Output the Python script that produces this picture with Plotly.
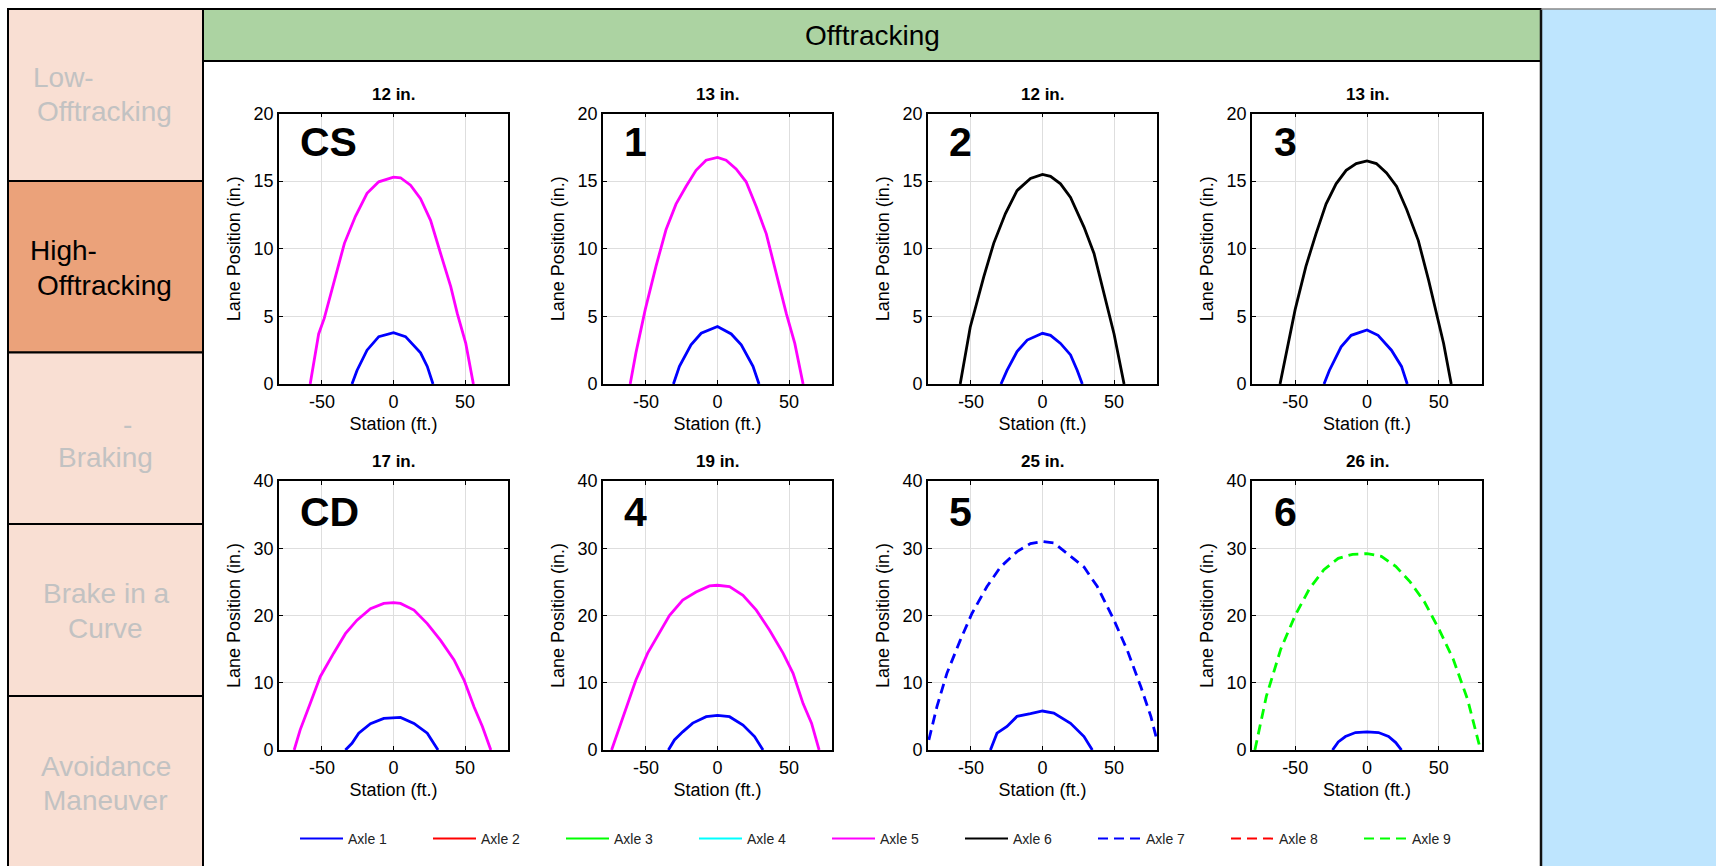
import plotly.graph_objects as go

W, H = 1716, 866

# ---------------- data ----------------
cs_ax1_x = [-29, -25.5, -18.5, -10.3, 0, 8.4, 18.9, 23.6, 27.6]
cs_ax1_y = [0, 1.0, 2.5, 3.5, 3.8, 3.5, 2.3, 1.3, 0]
cs_ax5_x = [-58.2, -52.3, -48.4, -41.8, -34.3, -26.6, -18.5, -10.3, 0, 4.9, 11.9, 18.9, 25.9, 32.9, 40, 44.6, 50.5, 55.8]
cs_ax5_y = [0, 3.7, 4.85, 7.4, 10.4, 12.4, 14.1, 14.95, 15.3, 15.25, 14.7, 13.7, 12.1, 9.65, 7.2, 5.2, 3.0, 0]

p1_ax1_x = [-30.8, -26.6, -18.5, -11.4, 0, 9.6, 16.6, 24.8, 29]
p1_ax1_y = [0, 1.3, 2.9, 3.75, 4.25, 3.7, 2.9, 1.3, 0]
p1_ax5_x = [-61, -57, -50.5, -43, -36, -29, -22, -15, -8, 0, 6, 13, 20, 27.1, 34.1, 41.1, 48.1, 54, 59.8]
p1_ax5_y = [0, 2.3, 5.5, 8.7, 11.4, 13.3, 14.6, 15.8, 16.55, 16.75, 16.55, 15.9, 14.95, 13.1, 11.1, 8.2, 5.2, 3.0, 0]

p2_ax1_x = [-29, -24.8, -17.8, -10.7, 0, 5.6, 12.6, 19.6, 24.3, 27.8]
p2_ax1_y = [0, 1.0, 2.4, 3.25, 3.75, 3.6, 3.0, 2.15, 1.0, 0]
p2_ax6_x = [-57.5, -50.5, -41.1, -34.1, -25.9, -17.8, -8.4, 0, 5.6, 12.6, 19.6, 29, 36, 43, 50, 57]
p2_ax6_y = [0, 4.2, 7.9, 10.4, 12.6, 14.3, 15.2, 15.5, 15.35, 14.8, 13.8, 11.6, 9.65, 6.7, 3.7, 0]

p3_ax1_x = [-29.9, -26.2, -18, -11, 0, 7.7, 17, 24, 28]
p3_ax1_y = [0, 1.0, 2.75, 3.6, 4.0, 3.6, 2.5, 1.3, 0]
p3_ax6_x = [-60.5, -56.5, -50, -42.5, -35.5, -28.5, -21.5, -14.5, -7.5, 0, 6.5, 13.6, 20.6, 27.6, 35.7, 42.8, 48.6, 53.3, 58.6]
p3_ax6_y = [0, 2.0, 5.5, 8.7, 11.1, 13.3, 14.8, 15.8, 16.3, 16.5, 16.3, 15.6, 14.6, 12.9, 10.6, 7.7, 5.2, 3.0, 0]

cd_ax1_x = [-33.6, -29, -24.3, -16.1, -6.8, 0, 4.9, 14.3, 23.6, 31.1]
cd_ax1_y = [0, 1.0, 2.5, 3.9, 4.7, 4.85, 4.85, 3.95, 2.5, 0]
cd_ax5_x = [-69.4, -65.2, -58.2, -51.2, -41.8, -33.6, -25.5, -16.1, -6.8, 0, 4.9, 14.3, 23.6, 32.9, 42.3, 49.3, 56.3, 62.1, 68]
cd_ax5_y = [0, 3.0, 6.9, 10.9, 14.4, 17.3, 19.3, 21.0, 21.8, 21.9, 21.8, 20.8, 18.8, 16.3, 13.4, 10.4, 6.4, 3.5, 0]

p4_ax1_x = [-34.3, -30.1, -24.3, -17.3, -7.9, 0, 8.4, 17.8, 25.9, 31.8]
p4_ax1_y = [0, 1.5, 2.7, 4.0, 4.95, 5.15, 4.95, 3.7, 2.0, 0]
p4_ax5_x = [-74, -69.9, -64, -57, -48.8, -40.7, -33.6, -24.3, -15, -5.6, 0, 8.4, 17.8, 27.1, 36.4, 45.8, 52.8, 59.8, 65.7, 71]
p4_ax5_y = [0, 2.5, 6.4, 10.4, 14.4, 17.3, 20.0, 22.3, 23.5, 24.4, 24.5, 24.3, 23.0, 20.8, 17.8, 14.4, 11.4, 6.9, 4.0, 0]

p5_ax1_x = [-36.4, -31.8, -24.8, -17.8, -8.4, 0, 7.9, 19.6, 29, 34.8]
p5_ax1_y = [0, 2.5, 3.5, 5.0, 5.4, 5.8, 5.5, 3.96, 2.0, 0]
p5_ax7_x = [-79.4, -73.8, -66.8, -57.5, -49.3, -38.8, -29.4, -17.8, -8.4, 0, 7.9, 17.3, 29, 38.3, 50, 59.3, 68.7, 75.7, 79.9]
p5_ax7_y = [1.5, 6.4, 11.4, 16.3, 20.3, 24.3, 27.2, 29.5, 30.7, 31.0, 30.8, 29.2, 27.2, 24.3, 19.3, 14.8, 9.4, 5.0, 1.5]

p6_ax1_x = [-24, -20, -15, -8, 0, 8, 15, 20, 24]
p6_ax1_y = [0, 1.2, 2.0, 2.6, 2.7, 2.6, 2.0, 1.1, 0]
p6_ax9_x = [-78, -70, -60, -50, -40, -30, -20, -10, 0, 10, 20, 30, 40, 50, 60, 70, 79]
p6_ax9_y = [0, 8, 15, 20, 24, 26.8, 28.5, 29.1, 29.2, 28.8, 27.3, 25, 22, 18, 13.5, 7.5, 0]

panel_titles = ["12 in.", "13 in.", "12 in.", "13 in.", "17 in.", "19 in.", "25 in.", "26 in."]
panel_labels = ["CS", "1", "2", "3", "CD", "4", "5", "6"]
axle_names = ["Axle 1", "Axle 2", "Axle 3", "Axle 4", "Axle 5", "Axle 6", "Axle 7", "Axle 8", "Axle 9"]
x_tickvals = [-50, 0, 50]
x_ticktext = ["-50", "0", "50"]
y_ticks_top = [0, 5, 10, 15, 20]
y_ticks_bottom = [0, 10, 20, 30, 40]
header_text = "Offtracking"

# ---------------- styles ----------------
FONT = "Liberation Sans, Arial, sans-serif"
axle_style = {
    "Axle 1": ("#0000FF", "solid"), "Axle 2": ("#FF0000", "solid"),
    "Axle 3": ("#00FF00", "solid"), "Axle 4": ("#00FFFF", "solid"),
    "Axle 5": ("#FF00FF", "solid"), "Axle 6": ("#000000", "solid"),
    "Axle 7": ("#0000FF", "10px,6px"), "Axle 8": ("#FF0000", "10px,6px"),
    "Axle 9": ("#00FF00", "10px,6px"),
}

panels = [
    [(cs_ax1_x, cs_ax1_y, "Axle 1"), (cs_ax5_x, cs_ax5_y, "Axle 5")],
    [(p1_ax1_x, p1_ax1_y, "Axle 1"), (p1_ax5_x, p1_ax5_y, "Axle 5")],
    [(p2_ax1_x, p2_ax1_y, "Axle 1"), (p2_ax6_x, p2_ax6_y, "Axle 6")],
    [(p3_ax1_x, p3_ax1_y, "Axle 1"), (p3_ax6_x, p3_ax6_y, "Axle 6")],
    [(cd_ax1_x, cd_ax1_y, "Axle 1"), (cd_ax5_x, cd_ax5_y, "Axle 5")],
    [(p4_ax1_x, p4_ax1_y, "Axle 1"), (p4_ax5_x, p4_ax5_y, "Axle 5")],
    [(p5_ax1_x, p5_ax1_y, "Axle 1"), (p5_ax7_x, p5_ax7_y, "Axle 7")],
    [(p6_ax1_x, p6_ax1_y, "Axle 1"), (p6_ax9_x, p6_ax9_y, "Axle 9")],
]

def px(x):
    return x / W

def py(y):
    return 1 - y / H

col_px = [(279, 508), (603, 832), (928, 1157), (1252, 1482)]
row_px = [(113.5, 384), (481, 750)]

fig = go.Figure()
layout = dict(
    template="none",
    width=W, height=H, margin=dict(l=0, r=0, t=0, b=0, autoexpand=False),
    paper_bgcolor="white", plot_bgcolor="white",
    font=dict(family=FONT, color="black"),
    showlegend=True, hovermode=False,
)

annotations = []
shapes = []

for i in range(8):
    r, c = divmod(i, 4)
    n = i + 1
    xa = "x" if n == 1 else f"x{n}"
    ya = "y" if n == 1 else f"y{n}"
    x0, x1 = col_px[c]
    y0, y1 = row_px[r]
    yticks = y_ticks_top if r == 0 else y_ticks_bottom
    common = dict(showline=True, linecolor="black", linewidth=1.8, mirror="ticks",
                  ticks="inside", ticklen=4, tickwidth=1, tickcolor="black",
                  showgrid=True, gridcolor="#dedede", gridwidth=1, zeroline=False,
                  automargin=False,
                  tickfont=dict(size=18, family=FONT, color="black"), fixedrange=True)
    layout[f"xaxis{'' if n == 1 else n}"] = dict(
        domain=[px(x0), px(x1)], anchor=ya, range=[-80, 80],
        tickmode="array", tickvals=x_tickvals, ticktext=x_ticktext,
        title=dict(text="Station (ft.)", font=dict(size=18, family=FONT), standoff=7),
        **common)
    layout[f"yaxis{'' if n == 1 else n}"] = dict(
        domain=[py(y1), py(y0)], anchor=xa, range=[0, yticks[-1]],
        tickmode="array", tickvals=yticks, ticktext=[str(v) for v in yticks],
        title=dict(text="Lane Position (in.)", font=dict(size=18, family=FONT), standoff=8),
        **common)
    for (xs, ys, name) in panels[i]:
        col, dash = axle_style[name]
        fig.add_trace(go.Scatter(x=xs, y=ys, mode="lines", xaxis=xa, yaxis=ya,
                                 line=dict(color=col, width=2.8, dash=dash),
                                 showlegend=False, legendgroup=name, name=name))
    annotations.append(dict(text=panel_titles[i], xref="paper", yref="paper",
                            x=px((x0 + x1) / 2), y=py(95 if r == 0 else 461),
                            xanchor="center", yanchor="middle", showarrow=False,
                            font=dict(size=17, family=FONT, color="black", weight="bold")))
    annotations.append(dict(text=f"<b>{panel_labels[i]}</b>", xref=f"{xa} domain", yref=f"{ya} domain",
                            x=0.085, y=0.893 if r == 0 else 0.883,
                            xanchor="left", yanchor="middle", showarrow=False,
                            font=dict(size=41, family=FONT, color="black")))

for name in axle_names:
    col, dash = axle_style[name]
    fig.add_trace(go.Scatter(x=[None], y=[None], mode="lines", name=name,
                             line=dict(color=col, width=2, dash=dash),
                             legendgroup=name, showlegend=True))

layout["legend"] = dict(orientation="h", x=px(295), xanchor="left", y=py(839), yanchor="middle",
                        itemwidth=43, entrywidth=75, entrywidthmode="pixels",
                        bgcolor="rgba(0,0,0,0)", borderwidth=0,
                        font=dict(size=14, family=FONT, color="#222222"), traceorder="normal")

# ---------------- decoration shapes ----------------
light = "#F9DFD3"
strong = "#EBA27A"
box_edges = [9, 181, 352.5, 524, 696, 880]
for k in range(5):
    shapes.append(dict(type="rect", xref="paper", yref="paper", layer="below",
                       x0=px(8), x1=px(203), y0=py(box_edges[k + 1]), y1=py(box_edges[k]),
                       fillcolor=strong if k == 1 else light, line=dict(color="black", width=2)))
shapes.append(dict(type="rect", xref="paper", yref="paper", layer="below",
                   x0=px(203), x1=px(1541), y0=py(61), y1=py(9),
                   fillcolor="#ACD3A2", line=dict(color="black", width=2)))
shapes.append(dict(type="rect", xref="paper", yref="paper", layer="below",
                   x0=px(1541), x1=px(1730), y0=py(880), y1=py(9),
                   fillcolor="#BEE5FE", line=dict(width=0)))
shapes.append(dict(type="line", xref="paper", yref="paper", layer="below",
                   x0=px(1541), x1=px(1541), y0=py(880), y1=py(9),
                   line=dict(color="#111111", width=2.5)))
shapes.append(dict(type="line", xref="paper", yref="paper", layer="below",
                   x0=px(1541), x1=px(1716), y0=py(9), y1=py(9),
                   line=dict(color="#888888", width=1.5)))

side_lines = [
    ("Low-", 31, 78, "left", "#C2C2C2"),
    ("Offtracking", 35, 112, "left", "#C2C2C2"),
    ("High-", 28, 250, "left", "black"),
    ("Offtracking", 35, 285, "left", "black"),
    ("-", 127, 424, "center", "#C2C2C2"),
    ("Braking", 105.5, 457, "center", "#C2C2C2"),
    ("Brake in a", 105.5, 593, "center", "#C2C2C2"),
    ("Curve", 105.5, 628, "center", "#C2C2C2"),
    ("Avoidance", 105.5, 766, "center", "#C2C2C2"),
    ("Maneuver", 105.5, 800, "center", "#C2C2C2"),
]
for t, x, y, anc, colr in side_lines:
    annotations.append(dict(text=t, xref="paper", yref="paper", x=px(x), y=py(y),
                            xanchor=anc, yanchor="middle", showarrow=False,
                            font=dict(size=28, family=FONT, color=colr)))

annotations.append(dict(text=header_text, xref="paper", yref="paper", x=px(872), y=py(35),
                        xanchor="center", yanchor="middle", showarrow=False,
                        font=dict(size=28, family=FONT, color="black")))

layout["annotations"] = annotations
layout["shapes"] = shapes
fig.update_layout(**layout)

page_fix = ("document.body.style.margin='0px';document.body.style.padding='0px';"
            "document.documentElement.style.overflow='hidden';document.body.style.overflow='hidden';")
fig.write_html("out.html", config={"displayModeBar": False}, post_script=page_fix)
